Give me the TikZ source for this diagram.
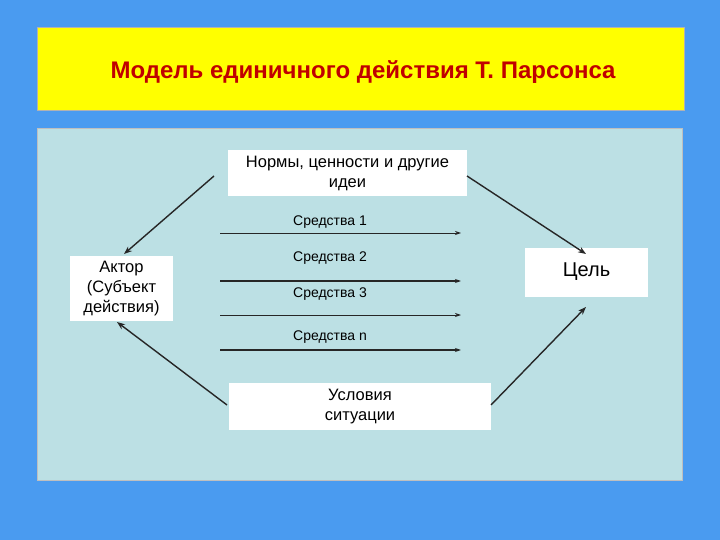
\documentclass[tikz,border=0pt]{standalone}
\usepackage{fontspec}
\setmainfont{Liberation Sans}
\usetikzlibrary{arrows.meta}
\definecolor{bg}{HTML}{4A9BF0}
\definecolor{ylw}{HTML}{FFFF00}
\definecolor{panel}{HTML}{BCE0E4}
\definecolor{ttl}{HTML}{C00000}
\tikzset{wbox/.style={fill=white,draw=none,align=center,font=\fontsize{16.5}{20}\selectfont,inner sep=0pt},
 conn/.style={draw=black!85,line width=1.4pt,-{Stealth[length=8pt,width=6pt]}},
 mean/.style={draw=black!85,-{Stealth[length=6pt,width=4pt]}},
 lbl/.style={font=\fontsize{14}{16}\selectfont,anchor=west,inner sep=0pt}}
\begin{document}
\begin{tikzpicture}[x=1pt,y=-1pt]
\useasboundingbox (0,0) rectangle (720,540);
\fill[bg] (0,0) rectangle (720,540);
\fill[ylw] (37,27) rectangle (684,110);
\draw[gray!60,line width=0.5pt] (37,27) rectangle (684,110);
\node[font=\bfseries\fontsize{24}{28}\selectfont,text=ttl] (title) at (363,72) {Модель единичного действия Т. Парсонса};
\fill[panel] (37,128) rectangle (682,480);
\draw[gray!50,line width=0.5pt] (37,128) rectangle (682,480);
\node[wbox,minimum width=239pt,minimum height=46pt] (norm) at (347.5,173) {Нормы, ценности и другие\\идеи};
\node[wbox,minimum width=103pt,minimum height=65pt] (actor) at (121.5,288.5) {Актор\\(Субъект\\действия)};
\node[wbox,minimum width=123pt,minimum height=49pt,font=\fontsize{20}{24}\selectfont] (goal) at (586.5,272) {Цель};
\node[wbox,minimum width=262pt,minimum height=47pt] (cond) at (360,406.5) {Условия\\ситуации};
\coordinate (n1) at (214,176); \coordinate (n2) at (467,176);
\coordinate (c1) at (227,405); \coordinate (c2) at (491,405);
\draw[conn] (n1) -- (124,254);
\draw[conn] (n2) -- (586,254);
\draw[conn] (c1) -- (117,322);
\draw[conn] (c2) -- (586,307);
\foreach \y/\w/\t/\ly in {233/0.8/1/222,281/2/2/258,315/0.8/3/294,350/2/n/337}{
 \coordinate (a\t) at (220,\y); \coordinate (b\t) at (461,\y);
 \draw[mean,line width=\w pt] (a\t) -- (b\t);
 \node[lbl] (l\t) at (293,\ly) {Средства \t};
}
\end{tikzpicture}
\end{document}
